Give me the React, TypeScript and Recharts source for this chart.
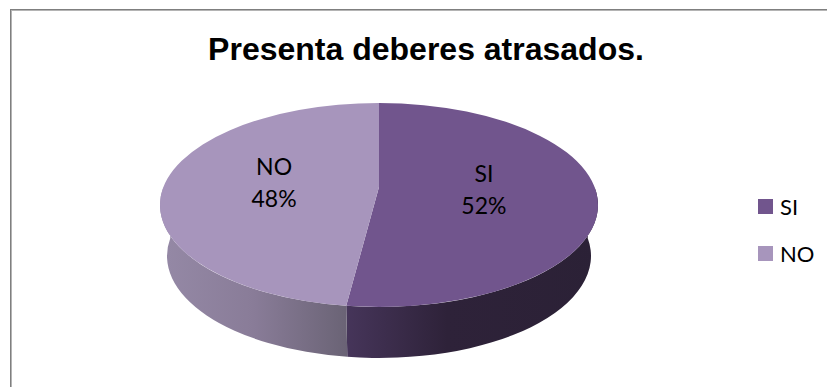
import React from 'react';
import { PieChart, Pie, Legend } from 'recharts';

const categories = ['SI', 'NO'];
const shares = [52, 48];
const topColors = ['#71558d', '#a795bc'];
const sideStops = [
  ['#46355a', '#2e2239', '#2b2136'],
  ['#9589a6', '#897c98', '#6a6375']
];

const chartData = categories.map((name, i) => ({
  name,
  value: shares[i],
  fill: topColors[i]
}));

// tilt of the disc: flattened radius, how far the hub slides away from the
// viewer, and the slightly narrower rim at the foot of the wall
const SQUASH = 102 / 219;
const HUB_SHIFT = -18 / 102;
const FOOT_RX = 212;
const FOOT_RY = 102;
const FOOT_DROP = 51;

const rad = (deg: number) => (deg * Math.PI) / 180;

// unit circle to tilted disc, so straight cuts stay straight but meet at the shifted hub
const project = (deg: number) => {
  const u = Math.cos(rad(deg));
  const v = -Math.sin(rad(deg));
  const w = 1 + HUB_SHIFT * v;
  return {
    x: (u * Math.sqrt(1 - HUB_SHIFT * HUB_SHIFT)) / w,
    y: (v + HUB_SHIFT) / w
  };
};

const Slice3D = (props: any) => {
  const { cx, cy, outerRadius, startAngle, endAngle, index } = props;
  const rx = outerRadius;
  const ry = outerRadius * SQUASH;
  const onTop = (deg: number) => {
    const p = project(deg);
    return { x: cx + p.x * rx, y: cy + p.y * ry };
  };
  const onFoot = (deg: number) => {
    const p = project(deg);
    return { x: cx + p.x * FOOT_RX, y: cy + FOOT_DROP + p.y * FOOT_RY };
  };

  const a = onTop(startAngle);
  const b = onTop(endAngle);
  const large = startAngle - endAngle > 180 ? 1 : 0;
  const hub = { x: cx, y: cy + ry * HUB_SHIFT };

  // only the front half of the rim shows
  const wallStart = Math.min(startAngle, 0);
  const wallEnd = Math.max(endAngle, -180);
  const t0 = onTop(wallStart);
  const t1 = onTop(wallEnd);
  const f0 = onFoot(wallStart);
  const f1 = onFoot(wallEnd);
  const gradId = `wall-${index}`;

  return (
    <g>
      <defs>
        <linearGradient id={gradId} x1="0" y1="0" x2="1" y2="0">
          {index === 0 ? (
            <>
              <stop offset="0%" stopColor={sideStops[0][0]} />
              <stop offset="40%" stopColor={sideStops[0][1]} />
              <stop offset="100%" stopColor={sideStops[0][2]} />
            </>
          ) : (
            <>
              <stop offset="0%" stopColor={sideStops[1][0]} />
              <stop offset="50%" stopColor={sideStops[1][1]} />
              <stop offset="100%" stopColor={sideStops[1][2]} />
            </>
          )}
        </linearGradient>
      </defs>
      <path
        d={`M${t0.x},${t0.y} A${rx},${ry} 0 0 1 ${t1.x},${t1.y} L${f1.x},${f1.y} A${FOOT_RX},${FOOT_RY} 0 0 0 ${f0.x},${f0.y} Z`}
        fill={`url(#${gradId})`}
      />
      <path
        d={`M${hub.x},${hub.y} L${a.x},${a.y} A${rx},${ry} 0 ${large} 1 ${b.x},${b.y} Z`}
        fill={topColors[index]}
      />
    </g>
  );
};

const SliceLabel = (props: any) => {
  const { cx, cy, outerRadius, midAngle, name, value } = props;
  const x = cx + outerRadius * 0.48 * Math.cos(rad(midAngle));
  const y = cy - 17.5 - outerRadius * SQUASH * 0.48 * Math.sin(rad(midAngle));
  return (
    <text
      x={x}
      y={y}
      textAnchor="middle"
      fontFamily="Lato, sans-serif"
      fontSize={23}
      fill="#000"
    >
      <tspan x={x} dy={-9}>{name}</tspan>
      <tspan x={x} dy={32}>{`${value}%`}</tspan>
    </text>
  );
};

const LegendList = ({ payload }: any) => (
  <div style={{ fontFamily: 'Lato, sans-serif', fontSize: 22, color: '#000' }}>
    {(payload || []).map((item: any) => (
      <div key={item.value} style={{ display: 'flex', alignItems: 'center', height: 47.5 }}>
        <span
          style={{
            width: 15,
            height: 15,
            marginRight: 7,
            background: item.payload?.fill || item.color
          }}
        />
        {item.value}
      </div>
    ))}
  </div>
);

const App = () => {
  return (
    <div style={{ position: 'absolute', left: 0, top: 0, width: 827, height: 387, background: '#fff', overflow: 'hidden' }}>
      <div
        style={{
          position: 'absolute',
          left: 10,
          top: 9,
          width: 840,
          height: 400,
          boxSizing: 'border-box',
          borderLeft: '1px solid #7f7f7f',
          borderTop: '1px solid #7f7f7f',
          boxShadow: 'inset 1px 1px 0 #b4b4b4'
        }}
      />
      <div style={{ position: 'absolute', left: 0, top: 0, width: 827, height: 387, overflow: 'hidden' }}>
        <PieChart width={827} height={387} margin={{ top: 0, right: 0, bottom: 0, left: 0 }}>
          <text
            x={426}
            y={60}
            textAnchor="middle"
            fontFamily="'Liberation Sans', Arial, sans-serif"
            fontWeight="bold"
            fontSize={32}
            fill="#000"
          >
            Presenta deberes atrasados.
          </text>
          <Pie
            data={chartData}
            dataKey="value"
            nameKey="name"
            cx={379}
            cy={205}
            outerRadius={219}
            startAngle={90}
            endAngle={-270}
            stroke="none"
            isAnimationActive={false}
            shape={<Slice3D />}
            label={<SliceLabel />}
            labelLine={false}
          />
          <Legend
            layout="vertical"
            itemSorter={null}
            content={<LegendList />}
            wrapperStyle={{ position: 'absolute', left: 758, top: 182.5, width: 70, margin: 0 }}
          />
        </PieChart>
      </div>
    </div>
  );
};

export default App;
